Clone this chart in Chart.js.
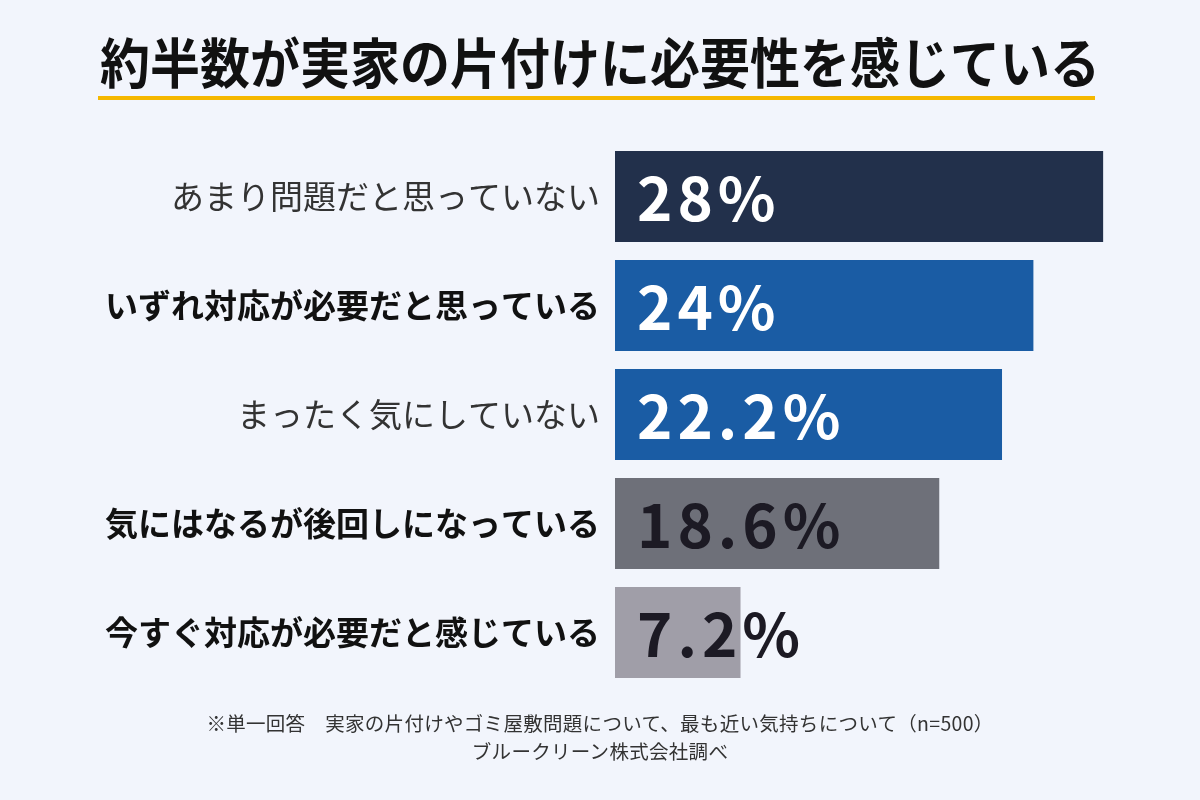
<!DOCTYPE html>
<html lang="ja">
<head>
<meta charset="utf-8">
<title>実家の片付け</title>
<script src="https://cdn.jsdelivr.net/npm/chart.js@4.4.1/dist/chart.umd.min.js"></script>
<style>
    html, body { margin: 0; padding: 0; background: #f2f5fc; }
    #wrap { position: relative; width: 1200px; height: 800px; overflow: hidden; }
    #chart { position: absolute; left: 0; top: 0; }
    h1 {
        position: absolute; left: 0; top: 28px; width: 1200px; margin: 0;
        font: bold 50px "Noto Sans CJK JP", sans-serif; color: #111;
        text-align: center; line-height: 64px; white-space: nowrap;
    }
    h1 span { display: inline-block; transform: scaleY(1.08); }
    .rule { position: absolute; left: 98px; top: 96px; width: 997px; height: 4px; background: #f5b800; }
    .note {
        position: absolute; left: 0; width: 1200px; text-align: center;
        font: 19.5px "Noto Sans CJK JP", sans-serif; color: #333; letter-spacing: 0.3px;
    }
</style>
</head>
<body>
<div id="wrap">
    <h1><span>約半数が実家の片付けに必要性を感じている</span></h1>
    <div class="rule"></div>
    <canvas id="chart" width="1200" height="800"></canvas>
    <div class="note" style="top: 708px;">※単一回答　実家の片付けやゴミ屋敷問題について、最も近い気持ちについて（n=500）</div>
    <div class="note" style="top: 736px;">ブルークリーン株式会社調べ</div>
</div>
<script>
const categories = [
    'あまり問題だと思っていない',
    'いずれ対応が必要だと思っている',
    'まったく気にしていない',
    '気にはなるが後回しになっている',
    '今すぐ対応が必要だと感じている'
];
const values = [28, 24, 22.2, 18.6, 7.2];
const boldRows = [false, true, false, true, true];
const barColors = ['#22304b', '#1a5ca4', '#1a5ca4', '#6e7079', '#a09ea8'];
const valueColors = ['#ffffff', '#ffffff', '#ffffff', '#1c1a24', '#1c1a24'];

// draws the big % figures inside each bar
const valueLabels = {
    id: 'valueLabels',
    afterDatasetsDraw(chart) {
        const ctx = chart.ctx;
        const meta = chart.getDatasetMeta(0);
        ctx.save();
        ctx.font = 'bold 60px "Noto Sans CJK JP", sans-serif';
        ctx.textAlign = 'left';
        ctx.textBaseline = 'middle';
        if ('letterSpacing' in ctx) ctx.letterSpacing = '5px';
        meta.data.forEach((bar, i) => {
            ctx.fillStyle = valueColors[i];
            ctx.fillText(values[i] + '%', bar.base + 22, bar.y + 2);
        });
        ctx.restore();
    }
};

new Chart(document.getElementById('chart'), {
    type: 'bar',
    data: {
        labels: categories,
        datasets: [{
            data: values,
            backgroundColor: barColors,
            borderWidth: 0,
            barPercentage: 1,
            categoryPercentage: 0.835
        }]
    },
    options: {
        indexAxis: 'y',
        responsive: false,
        animation: false,
        layout: { padding: { top: 142, bottom: 113, left: 0, right: 62 } },
        plugins: {
            legend: { display: false },
            tooltip: { enabled: false }
        },
        scales: {
            x: { display: false, min: 0, max: 30 },
            y: {
                grid: { display: false },
                border: { display: false },
                afterFit: (scale) => { scale.width = 615; },
                ticks: {
                    padding: 7,
                    color: (c) => boldRows[c.index] ? '#111111' : '#333333',
                    font: (c) => ({
                        family: '"Noto Sans CJK JP", sans-serif',
                        size: 33,
                        weight: boldRows[c.index] ? 'bold' : 'normal'
                    })
                }
            }
        }
    },
    plugins: [valueLabels]
});
</script>
</body>
</html>
